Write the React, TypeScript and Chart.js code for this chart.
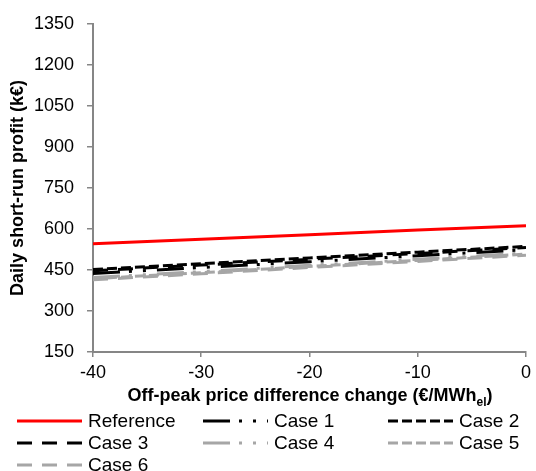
import React, { useEffect, useRef } from "react";
import { Chart, registerables } from "chart.js";
Chart.register(...registerables);

// ---- data ----
const xValues = [-40, -30, -20, -10, 0];
const seriesNames = ["Reference", "Case 1", "Case 2", "Case 3", "Case 4", "Case 5", "Case 6"];
const reference = [546, 562, 579, 596, 612];
const case1 = [437, 459, 480, 502, 524];
const case2 = [452, 473, 494, 515, 536];
const case3 = [447, 468, 489, 510, 532];
const case4 = [422, 444, 467, 489, 512];
const case5 = [418, 440, 463, 485, 508];
const case6 = [414, 436, 459, 481, 504];
const seriesValues = [reference, case1, case2, case3, case4, case5, case6];
const yMin = 150;
const yMax = 1350;
const yStep = 150;
const xMin = -40;
const xMax = 0;
const xStep = 10;
const xTitle = "Off-peak price difference change (€/MWh";
const xTitleSub = "el";
const yTitle = "Daily short-run profit (k€)";

// ---- styles ----
const RED = "#FF0000";
const BLACK = "#000000";
const GREY = "#A6A6A6";
const AXIS = "#868686";
const FONT = "'Liberation Sans', Arial, sans-serif";
const dashDotDot = [27, 9, 3, 11, 3, 11];
const shortDash = [10, 4];
const longDash = [15, 10];
const seriesStyles = [
  { color: RED, dash: [] as number[] },
  { color: BLACK, dash: dashDotDot },
  { color: BLACK, dash: shortDash },
  { color: BLACK, dash: longDash },
  { color: GREY, dash: dashDotDot },
  { color: GREY, dash: shortDash },
  { color: GREY, dash: longDash },
];

const legendCols = [17, 203, 388];
const legendRows = [421, 443, 465];

export default function App() {
  const canvasRef = useRef<HTMLCanvasElement | null>(null);

  useEffect(() => {
    if (!canvasRef.current) return;
    const chart = new Chart(canvasRef.current, {
      type: "line",
      data: {
        datasets: seriesNames.map((name, i) => ({
          label: name,
          data: xValues.map((x, j) => ({ x, y: seriesValues[i][j] })),
          borderColor: seriesStyles[i].color,
          backgroundColor: seriesStyles[i].color,
          borderDash: seriesStyles[i].dash,
          borderWidth: 3,
          pointRadius: 0,
          fill: false,
          tension: 0,
        })),
      },
      options: {
        animation: false,
        responsive: false,
        devicePixelRatio: 1,
        layout: { padding: { left: 0, right: 9, top: 20, bottom: 89 } },
        plugins: {
          legend: { display: false },
          tooltip: { enabled: false },
        },
        scales: {
          x: {
            type: "linear",
            min: xMin,
            max: xMax,
            afterFit: (s: any) => {
              s.height = 30;
            },
            ticks: {
              stepSize: xStep,
              color: BLACK,
              padding: 5,
              font: { family: FONT, size: 18 },
              maxRotation: 0,
              callback: (v: any) => String(v),
            },
            grid: {
              drawOnChartArea: false,
              drawTicks: true,
              tickLength: 5,
              color: AXIS,
              lineWidth: 1.5,
            },
            border: { color: AXIS, width: 2 },
          },
          y: {
            type: "linear",
            min: yMin,
            max: yMax,
            afterFit: (s: any) => {
              s.width = 93;
            },
            ticks: {
              stepSize: yStep,
              color: BLACK,
              padding: 13,
              font: { family: FONT, size: 18 },
              callback: (v: any) => String(v),
            },
            grid: {
              drawOnChartArea: false,
              drawTicks: true,
              tickLength: 6,
              color: AXIS,
              lineWidth: 1.5,
            },
            border: { color: AXIS, width: 2 },
            title: {
              display: true,
              text: yTitle,
              color: BLACK,
              font: { family: FONT, size: 18, weight: "bold" },
              padding: { top: 7, bottom: 0 },
            },
          },
        },
      },
    } as any);
    return () => chart.destroy();
  }, []);

  return (
    <div
      style={{
        position: "absolute",
        left: 0,
        top: 0,
        width: 536,
        height: 471,
        overflow: "hidden",
        background: "#fff",
        fontFamily: FONT,
      }}
    >
      <canvas ref={canvasRef} width={536} height={471} style={{ position: "absolute", left: 0, top: 0 }} />
      <div
        style={{
          position: "absolute",
          left: 93,
          width: 434,
          top: 386,
          textAlign: "center",
          fontWeight: "bold",
          fontSize: 18,
          lineHeight: "18px",
          color: BLACK,
          whiteSpace: "nowrap",
        }}
      >
        {xTitle}
        <span style={{ fontSize: 12, position: "relative", top: 5 }}>{xTitleSub}</span>)
      </div>
      {seriesNames.map((name, i) => {
        const col = i % 3;
        const row = Math.floor(i / 3);
        const st = seriesStyles[i];
        return (
          <div
            key={name}
            style={{
              position: "absolute",
              left: legendCols[col],
              top: legendRows[row] - 11,
              height: 22,
              display: "flex",
              alignItems: "center",
              fontSize: 19,
              color: BLACK,
              whiteSpace: "nowrap",
            }}
          >
            <svg width={65} height={6} style={{ display: "block" }}>
              <line
                x1={0}
                y1={3}
                x2={65}
                y2={3}
                stroke={st.color}
                strokeWidth={3}
                strokeDasharray={st.dash.length ? st.dash.join(" ") : undefined}
              />
            </svg>
            <span style={{ marginLeft: 6, lineHeight: "22px" }}>{name}</span>
          </div>
        );
      })}
    </div>
  );
}
